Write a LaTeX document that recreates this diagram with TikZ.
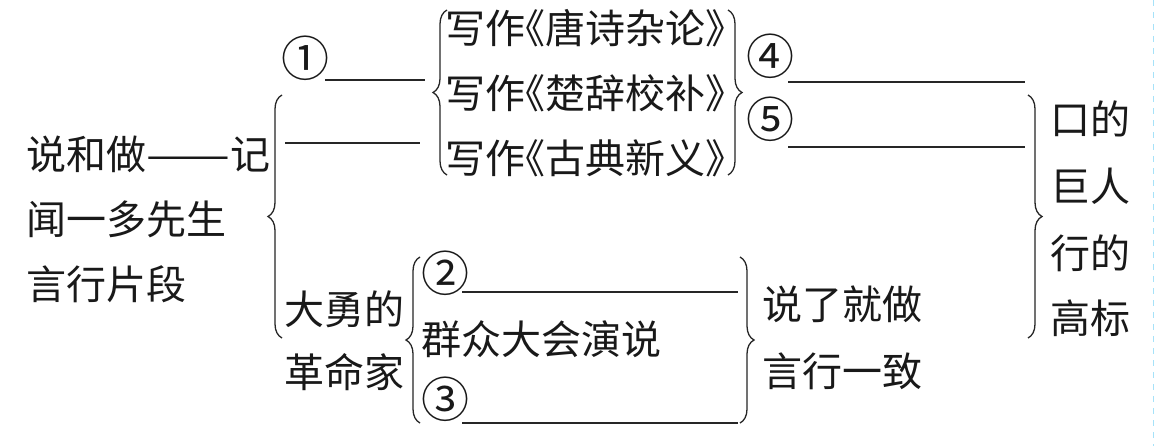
\documentclass[tikz,border=0pt]{standalone}
\usepackage{fontspec}
\newfontfamily\cjk{Noto Sans CJK SC}
\usetikzlibrary{decorations.pathreplacing}
\begin{document}
\begin{tikzpicture}[x=0.5pt,y=-0.5pt,
  txt/.style={font=\cjk\fontsize{20}{24}\selectfont, inner sep=0pt, anchor=west, text height=17pt, text depth=3pt, text=black!90},
  circ/.style={font=\cjk\fontsize{24}{28}\selectfont, inner sep=0pt, anchor=west, text height=20.4pt, text depth=3.6pt, text=black!90},
  br/.style={decorate, decoration={brace, amplitude=7pt}, line width=0.65pt, draw=black!85},
  ul/.style={line width=0.8pt, draw=black!85}]
\useasboundingbox[fill=white] (0,0) rectangle (1159,446);
% left title
\node[txt] (l1) at (26,155) {说和做\scalebox{1.25}[1]{——}记};
\node[txt] (l2) at (26,220) {闻一多先生};
\node[txt] (l3) at (26,285) {言行片段};
% brace 1
\coordinate (b1t) at (282,95); \coordinate (b1b) at (282,338);
\draw[br] (b1b) -- (b1t);
\node[circ] (n1) at (281,60) {①};
\coordinate (u1a) at (325,80); \coordinate (u1b) at (425,80);
\draw[ul] (u1a) -- (u1b);
\coordinate (u0a) at (285,143); \coordinate (u0b) at (420,143);
\draw[ul] (u0a) -- (u0b);
\node[txt] (d1) at (284,310) {大勇的};
\node[txt] (d2) at (284,373) {革命家};
% brace 2 and works
\coordinate (b2t) at (447,10); \coordinate (b2b) at (447,175);
\draw[br] (b2b) -- (b2t);
\node[txt] (w1) at (445,29) {写作\hspace{-0.5em}《唐诗杂论》};
\node[txt] (w2) at (445,94) {写作\hspace{-0.5em}《楚辞校补》};
\node[txt] (w3) at (445,159) {写作\hspace{-0.5em}《古典新义》};
% brace 3
\coordinate (b3t) at (728,10); \coordinate (b3b) at (728,175);
\draw[br] (b3t) -- (b3b);
\node[circ] (n4) at (746,58) {④};
\coordinate (u4a) at (788,82); \coordinate (u4b) at (1025,82);
\draw[ul] (u4a) -- (u4b);
\node[circ] (n5) at (746,121) {⑤};
\coordinate (u5a) at (788,147); \coordinate (u5b) at (1025,147);
\draw[ul] (u5a) -- (u5b);
% brace 6 right
\coordinate (b6t) at (1028,95); \coordinate (b6b) at (1028,338);
\draw[br] (b6t) -- (b6b);
\node[txt] (r1) at (1050,120) {口的};
\node[txt] (r2) at (1050,187) {巨人};
\node[txt] (r3) at (1050,254) {行的};
\node[txt] (r4) at (1050,319) {高标};
% brace 4
\coordinate (b4t) at (420,257); \coordinate (b4b) at (420,423);
\draw[br] (b4b) -- (b4t);
\node[circ] (n2) at (421,275) {②};
\coordinate (u2a) at (462,292); \coordinate (u2b) at (738,292);
\draw[ul] (u2a) -- (u2b);
\node[txt] (q) at (421,340) {群众大会演说};
\node[circ] (n3) at (421,401) {③};
\coordinate (u3a) at (462,423); \coordinate (u3b) at (738,423);
\draw[ul] (u3a) -- (u3b);
% brace 5
\coordinate (b5t) at (740,257); \coordinate (b5b) at (740,423);
\draw[br] (b5t) -- (b5b);
\node[txt] (s1) at (762,305) {说了就做};
\node[txt] (s2) at (762,372) {言行一致};
% page edge
\coordinate (e1) at (1153,0); \coordinate (e2) at (1153,446);
\draw[cyan!35, dashed, line width=0.5pt] (e1) -- (e2);
\end{tikzpicture}
\end{document}
